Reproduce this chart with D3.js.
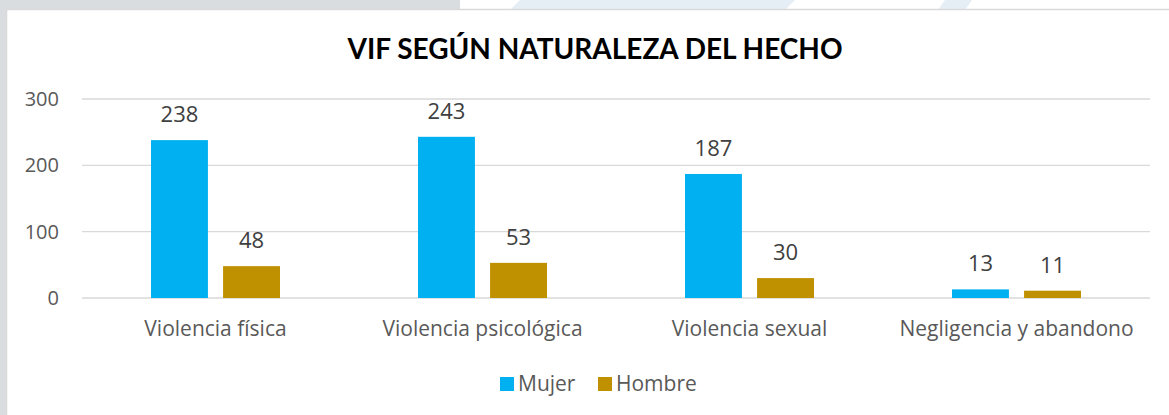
<!DOCTYPE html>
<html>
<head>
<meta charset="utf-8">
<script src="https://cdn.jsdelivr.net/npm/d3@7"></script>
<style>
  html, body { margin: 0; padding: 0; background: #ffffff; }
  svg { display: block; }
</style>
</head>
<body>
<svg id="chart" width="1169" height="415"></svg>
<script>
const categories = ["Violencia física", "Violencia psicológica", "Violencia sexual", "Negligencia y abandono"];
const seriesNames = ["Mujer", "Hombre"];
const mujer = [238, 243, 187, 13];
const hombre = [48, 53, 30, 11];
const yTicks = [0, 100, 200, 300];
const colors = ["#00b0f0", "#bf9000"];

const width = 1169;
const height = 415;
const margin = { left: 82, right: 19, top: 99, bottom: 117 };

const svg = d3.select("#chart");

/* slide background behind the chart box */
svg.append("rect").attr("x", 0).attr("y", 0).attr("width", width).attr("height", height).attr("fill", "#ffffff");
svg.append("rect").attr("x", 0).attr("y", 0).attr("width", 460).attr("height", 10).attr("fill", "#dadde0");
svg.append("rect").attr("x", 0).attr("y", 0).attr("width", 6).attr("height", height).attr("fill", "#dadde0");
svg.append("polygon").attr("points", "520,0 795,0 785,10 510,10").attr("fill", "#e6eef5");
svg.append("polygon").attr("points", "945,0 972,0 965,10 938,10").attr("fill", "#e6eef5");

/* chart box */
svg.append("rect")
    .attr("x", 6.5).attr("y", 9.5)
    .attr("width", width).attr("height", height)
    .attr("fill", "#ffffff")
    .attr("stroke", "#d9d9d9")
    .attr("stroke-width", 1.5);

const x0 = d3.scaleBand()
    .domain(categories)
    .range([margin.left, width - margin.right]);

const x1 = d3.scaleBand()
    .domain(seriesNames)
    .range([69, x0.bandwidth() - 69])
    .paddingInner(0.21);

const y = d3.scaleLinear()
    .domain([0, 300])
    .range([height - margin.bottom, margin.top]);

/* gridlines */
svg.append("g")
    .selectAll("line")
    .data(yTicks)
    .enter()
    .append("line")
    .attr("x1", margin.left)
    .attr("x2", width - margin.right)
    .attr("y1", d => y(d))
    .attr("y2", d => y(d))
    .attr("stroke", "#d9d9d9")
    .attr("stroke-width", 1.3);

/* y axis labels */
svg.append("g")
    .selectAll("text")
    .data(yTicks)
    .enter()
    .append("text")
    .attr("x", 59)
    .attr("y", d => y(d))
    .attr("dy", "0.35em")
    .attr("text-anchor", "end")
    .style("font-family", "'Open Sans', sans-serif")
    .style("font-size", "20px")
    .style("fill", "#595959")
    .text(d => d);

/* bars */
const rows = categories.map((c, i) => ({ cat: c, values: [mujer[i], hombre[i]] }));

const groups = svg.append("g")
    .selectAll("g")
    .data(rows)
    .enter()
    .append("g")
    .attr("transform", d => `translate(${x0(d.cat)},0)`);

groups.selectAll("rect")
    .data(d => d.values.map((v, j) => ({ name: seriesNames[j], value: v, color: colors[j] })))
    .enter()
    .append("rect")
    .attr("x", d => x1(d.name))
    .attr("y", d => y(d.value))
    .attr("width", x1.bandwidth())
    .attr("height", d => y(0) - y(d.value))
    .attr("fill", d => d.color);

groups.selectAll("text")
    .data(d => d.values.map((v, j) => ({ name: seriesNames[j], value: v })))
    .enter()
    .append("text")
    .attr("x", d => x1(d.name) + x1.bandwidth() / 2)
    .attr("y", d => y(d.value) - 18)
    .attr("text-anchor", "middle")
    .style("font-family", "'Open Sans', sans-serif")
    .style("font-size", "22px")
    .style("fill", "#404040")
    .text(d => d.value);

/* category labels */
svg.append("g")
    .selectAll("text")
    .data(categories)
    .enter()
    .append("text")
    .attr("x", d => x0(d) + x0.bandwidth() / 2)
    .attr("y", 336)
    .attr("text-anchor", "middle")
    .style("font-family", "'Open Sans', sans-serif")
    .style("font-size", "21px")
    .style("fill", "#595959")
    .text(d => d);

/* title */
svg.append("text")
    .attr("x", 595)
    .attr("y", 59)
    .attr("text-anchor", "middle")
    .style("font-family", "Lato, sans-serif")
    .style("font-weight", "bold")
    .style("font-size", "28px")
    .style("fill", "#000000")
    .text("VIF SEGÚN NATURALEZA DEL HECHO");

/* legend */
const legendX = [500, 598];
const legend = svg.append("g")
    .selectAll("g")
    .data(seriesNames)
    .enter()
    .append("g")
    .attr("transform", (d, i) => `translate(${legendX[i]},377)`);

legend.append("rect")
    .attr("width", 14)
    .attr("height", 14)
    .attr("fill", (d, i) => colors[i]);

legend.append("text")
    .attr("x", 18)
    .attr("y", 7)
    .attr("dy", "0.35em")
    .style("font-family", "'Open Sans', sans-serif")
    .style("font-size", "21px")
    .style("fill", "#595959")
    .text(d => d);
</script>
</body>
</html>
